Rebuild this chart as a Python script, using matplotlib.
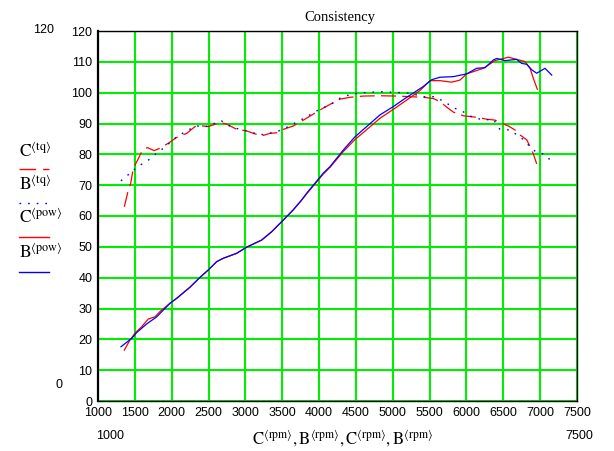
import matplotlib
matplotlib.use("Agg")
import matplotlib.pyplot as plt
from matplotlib.lines import Line2D

# --- data ---
c_tq_rpm = [1357, 1411, 1444, 1479, 1539, 1593, 1669, 1764, 1841, 1954, 2068, 2204,
            2316, 2429, 2497, 2656, 2747, 2882, 3018, 3107, 3221, 3334, 3425, 3515,
            3650, 3718, 3877, 4013, 4148, 4284, 4420, 4600, 4827, 5053, 5234, 5414,
            5550, 5641, 5732, 5822, 5958, 6139, 6275, 6387, 6455, 6568, 6659, 6727,
            6818, 6863, 6908, 6953]
c_tq = [63.0, 68.4, 70.6, 75.5, 78.2, 80.9, 82.2, 81.2, 82.0, 83.6, 85.5, 86.8,
        89.0, 89.2, 89.0, 90.3, 89.8, 88.1, 87.6, 86.8, 86.0, 86.8, 87.0, 88.1,
        89.2, 90.1, 92.4, 94.4, 96.2, 97.9, 98.5, 98.9, 99.0, 98.9, 98.7, 98.5,
        98.1, 97.1, 95.3, 93.7, 92.5, 92.0, 91.4, 91.1, 90.3, 89.2, 87.9, 86.3,
        84.7, 82.5, 80.1, 76.9]

b_tq_rpm = [1312, 1380, 1457, 1502, 1570, 1638, 1706, 1764, 1841, 1977, 2068, 2225,
            2339, 2520, 2611, 2679, 2814, 3063, 3198, 3425, 3582, 3732, 3832, 4013,
            4148, 4284, 4443, 4600, 4827, 5053, 5234, 5414, 5573, 5709, 5845, 5935,
            6071, 6229, 6365, 6455, 6591, 6772, 6886, 6953, 7021, 7089, 7134]
b_tq = [71.4, 73.0, 73.9, 75.3, 76.5, 77.4, 78.5, 79.8, 81.1, 83.8, 85.7, 87.9,
        89.2, 89.0, 90.6, 90.8, 88.8, 87.3, 86.3, 87.3, 89.0, 90.9, 92.2, 94.7,
        96.0, 98.2, 99.6, 100.0, 100.3, 100.1, 99.8, 98.7, 98.7, 96.9, 94.9, 94.1,
        92.2, 91.1, 91.4, 88.1, 87.9, 84.8, 81.9, 80.6, 80.3, 79.6, 78.1]

c_pow_rpm = [1357, 1434, 1502, 1593, 1683, 1774, 1841, 1977, 2068, 2248, 2384, 2497,
             2611, 2701, 2882, 3018, 3221, 3357, 3515, 3650, 3764, 3832, 4057, 4148,
             4329, 4488, 4646, 4827, 5008, 5189, 5370, 5505, 5641, 5800, 5913, 6003,
             6229, 6387, 6568, 6681, 6794, 6863, 6908, 6962]
c_pow = [16.5, 19.8, 22.0, 24.1, 26.6, 27.3, 29.0, 31.7, 33.3, 36.9, 40.1, 42.5,
         45.2, 46.3, 47.9, 49.9, 52.2, 54.9, 58.7, 62.0, 65.2, 67.2, 73.6, 75.8,
         80.9, 84.8, 88.0, 91.7, 94.6, 97.6, 100.7, 103.9, 103.9, 103.4, 104.1, 106.1,
         107.9, 110.4, 111.5, 110.8, 110.1, 107.9, 104.6, 101.1]

b_pow_rpm = [1312, 1457, 1525, 1661, 1797, 1977, 2068, 2248, 2384, 2497, 2611, 2701,
             2882, 3018, 3221, 3357, 3515, 3650, 3764, 3832, 4057, 4148, 4329, 4488,
             4646, 4827, 5008, 5189, 5325, 5414, 5528, 5641, 5822, 6003, 6139, 6252,
             6365, 6410, 6523, 6681, 6749, 6818, 6886, 6953, 7066, 7157]
b_pow = [17.6, 20.3, 22.2, 25.0, 27.3, 31.7, 33.3, 36.9, 40.1, 42.5, 45.2, 46.3,
         47.9, 49.9, 52.2, 54.9, 58.7, 62.0, 65.2, 67.4, 73.9, 76.0, 81.4, 85.7,
         89.0, 92.8, 95.5, 98.5, 100.6, 102.0, 104.2, 105.0, 105.2, 106.1, 107.9, 108.1,
         110.6, 111.1, 110.4, 110.8, 109.5, 109.2, 107.4, 106.3, 107.9, 105.7]

x_ticks = list(range(1000, 7501, 500))
y_ticks = list(range(0, 121, 10))

RED, BLUE, GREEN = "#ff0000", "#0000ff", "#00ee00"
plt.rcParams["mathtext.fontset"] = "stix"
TICK_FONT = dict(family="Liberation Sans", size=9)
SERIF = "Liberation Serif"

W, H = 614, 451
fig = plt.figure(figsize=(W / 100, H / 100), dpi=100)
ax = fig.add_axes([98 / W, 1 - 401 / H, (577 - 98) / W, (401 - 31) / H])

ax.plot(c_tq_rpm, c_tq, color=RED, lw=0.9, ls=(0, (12, 5)), zorder=3)
ax.plot(b_tq_rpm, b_tq, color=BLUE, lw=1.0, ls=(0, (1.2, 5)), zorder=3)
ax.plot(c_pow_rpm, c_pow, color=RED, lw=0.9, zorder=3)
ax.plot(b_pow_rpm, b_pow, color=BLUE, lw=0.9, zorder=4)

ax.set_xlim(1000, 7500)
ax.set_ylim(0, 120)
ax.set_xticks(x_ticks)
ax.set_yticks(y_ticks)
ax.set_xticklabels([str(v) for v in x_ticks], **TICK_FONT)
ax.set_yticklabels([str(v) for v in y_ticks], **TICK_FONT)
ax.tick_params(length=0, pad=4)
ax.grid(True, color=GREEN, lw=1.5, zorder=0)
for sp in ax.spines.values():
    sp.set_color("black")
    sp.set_linewidth(1.0)
ax.spines["left"].set_linewidth(1.6)

def fx(px): return px / W
def fy(py): return 1 - py / H

fig.text(fx(340), fy(17), "Consistency", family=SERIF, size=10.5, ha="center", va="center")

# range annotations
fig.text(fx(44), fy(30), "120", ha="center", va="center", **TICK_FONT)
fig.text(fx(59), fy(385), "0", ha="center", va="center", **TICK_FONT)
fig.text(fx(110), fy(436), "1000", ha="center", va="center", **TICK_FONT)
fig.text(fx(579), fy(436), "7500", ha="center", va="center", **TICK_FONT)

fig.text(fx(342), fy(439),
         r"$\mathrm{C}^{\langle \mathrm{rpm}\rangle}, \mathrm{B}^{\langle \mathrm{rpm}\rangle}, "
         r"\mathrm{C}^{\langle \mathrm{rpm}\rangle}, \mathrm{B}^{\langle \mathrm{rpm}\rangle}$",
         size=12, ha="center", va="center")

# left-side legend
legend = [
    (r"$\mathrm{C}^{\langle \mathrm{tq}\rangle}$", 152, 169, RED, (0, (12, 5))),
    (r"$\mathrm{B}^{\langle \mathrm{tq}\rangle}$", 185, 203, BLUE, (0, (1.2, 5))),
    (r"$\mathrm{C}^{\langle \mathrm{pow}\rangle}$", 218, 237, RED, "-"),
    (r"$\mathrm{B}^{\langle \mathrm{pow}\rangle}$", 253, 272, BLUE, "-"),
]
for label, ty, ly, col, ls in legend:
    fig.text(fx(19), fy(ty), label, size=12.5, ha="left", va="center")
    fig.add_artist(Line2D([fx(19), fx(49)], [fy(ly), fy(ly)], transform=fig.transFigure,
                          color=col, lw=1.0, ls=ls))

fig.savefig("out.png", dpi=100, facecolor="white")
